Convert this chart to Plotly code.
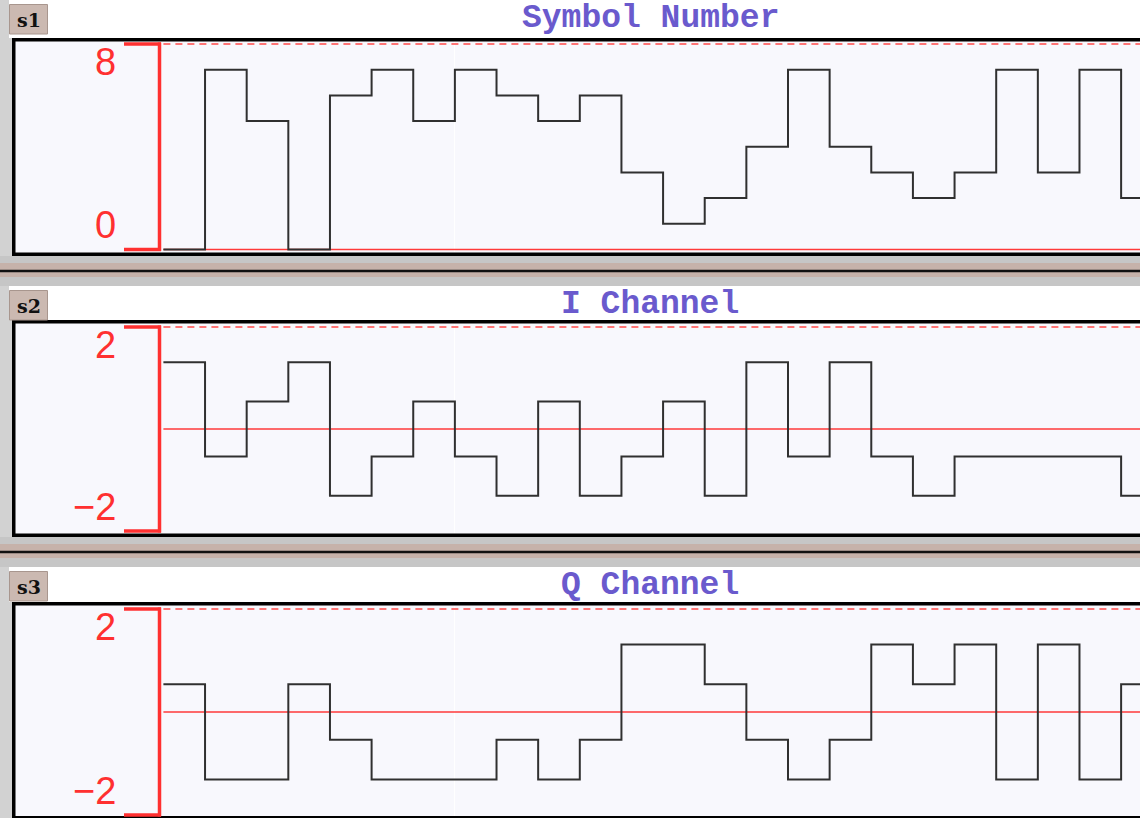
import plotly.graph_objects as go

# 8-PSK demo: symbol index per symbol period and the I / Q components
symbol_number = [0, 7, 5, 0, 6, 7, 5, 7, 6, 5, 6, 3, 1, 2, 4, 7, 4, 3, 2, 3, 7, 3, 7, 2]
i_channel = [1.31, -0.54, 0.54, 1.31, -1.31, -0.54, 0.54, -0.54, -1.31, 0.54, -1.31, -0.54,
             0.54, -1.31, 1.31, -0.54, 1.31, -0.54, -1.31, -0.54, -0.54, -0.54, -0.54, -1.31]
q_channel = [0.54, -1.31, -1.31, 0.54, -0.54, -1.31, -1.31, -1.31, -0.54, -1.31, -0.54, 1.31,
             1.31, 0.54, -0.54, -1.31, -0.54, 1.31, 0.54, 1.31, -1.31, 1.31, -1.31, 0.54]

titles = ['Symbol Number', 'I Channel', 'Q Channel']
tags = ['s1', 's2', 's3']
y_limits = [(0, 8), (-2, 2), (-2, 2)]
tick_labels = [('8', '0'), ('2', '\u22122'), ('2', '\u22122')]
series = [symbol_number, i_channel, q_channel]

W, H = 1140, 818
# pixel geometry of each strip (header top, frame top, frame bottom, top value px, bottom value px)
panels = [
    dict(head=0, top=38, bottom=256, vt=44, vb=249.5),
    dict(head=286, top=320, bottom=537, vt=327, vb=531),
    dict(head=567, top=602, bottom=819.5, vt=609, vb=815),
]
AXIS_X = 160
X0_PIX = 163.4
SYM_W = 41.64

RED = '#ff3030'
TRACE = '#303030'
TITLE_C = '#6a5acd'
BG = '#f8f8fd'


def px(x):
    return x / W


def py(y):
    return 1 - y / H


fig = go.Figure()
shapes = []
annotations = []
layout_axes = {}

x_range = [(AXIS_X - X0_PIX) / SYM_W, (W - X0_PIX) / SYM_W]

for k, p in enumerate(panels):
    n = '' if k == 0 else str(k + 1)
    vt, vb = y_limits[k][1], y_limits[k][0]
    d_top, d_bot = p['top'] + 4, p['bottom'] - 4
    unit = (p['vb'] - p['vt']) / (vt - vb)
    r0 = vb - (d_bot - p['vb']) / unit
    r1 = vt + (p['vt'] - d_top) / unit

    layout_axes['xaxis' + n] = dict(domain=[px(AXIS_X), 1], range=x_range, anchor='y' + n,
                                    showticklabels=False, zeroline=False, showline=False,
                                    tickvals=[7], showgrid=True, gridcolor='#ffffff', gridwidth=1)
    layout_axes['yaxis' + n] = dict(domain=[py(d_bot), py(d_top)], range=[r0, r1], anchor='x' + n,
                                    showticklabels=False, zeroline=False, showline=False, showgrid=False)

    vals = series[k]
    xs = list(range(len(vals) + 1))
    # reference lines
    fig.add_trace(go.Scatter(x=[0, len(vals)], y=[vt, vt], mode='lines',
                             line=dict(color='#ff4a4a', width=1.5, dash='7px,5px'),
                             xaxis='x' + n, yaxis='y' + n, hoverinfo='skip'))
    fig.add_trace(go.Scatter(x=[0, len(vals)], y=[0, 0], mode='lines',
                             line=dict(color='#ff3a3a', width=1.5),
                             xaxis='x' + n, yaxis='y' + n, hoverinfo='skip'))
    fig.add_trace(go.Scatter(x=xs, y=vals + [vals[-1]], mode='lines', line_shape='hv',
                             line=dict(color=TRACE, width=2),
                             xaxis='x' + n, yaxis='y' + n, name=titles[k]))

    # header strip
    shapes.append(dict(type='rect', xref='paper', yref='paper', layer='below',
                       x0=px(9), x1=px(W + 5), y0=py(p['top']), y1=py(p['head']),
                       fillcolor='#ffffff', line=dict(width=0)))
    # frame
    shapes.append(dict(type='rect', xref='paper', yref='paper', layer='below',
                       x0=px(13.75), x1=px(W + 10), y0=py(p['bottom'] - 1.75), y1=py(p['top'] + 1.75),
                       fillcolor=BG, line=dict(color='#000000', width=3.5)))
    # tag button
    shapes.append(dict(type='rect', xref='paper', yref='paper', layer='below',
                       x0=px(9.5), x1=px(47.5), y0=py(p['head'] + 34), y1=py(p['head'] + 4.5),
                       fillcolor='#cbb9b1', line=dict(color='#a8968e', width=1)))
    annotations.append(dict(text='<b>' + tags[k] + '</b>', xref='paper', yref='paper',
                            x=px(28.5), y=py(p['head'] + 20), showarrow=False,
                            xanchor='center', yanchor='middle',
                            font=dict(family='DejaVu Serif', size=19, color='#111111')))
    # title
    annotations.append(dict(text='<b>' + titles[k] + '</b>', xref='paper', yref='paper',
                            x=px((AXIS_X + W) / 2), y=py(p['head'] + 18.5), showarrow=False,
                            xanchor='center', yanchor='middle',
                            font=dict(family='Liberation Mono', size=33, color=TITLE_C)))
    # red bracket axis
    shapes.append(dict(type='line', xref='paper', yref='paper', layer='above',
                       x0=px(AXIS_X - 0.5), x1=px(AXIS_X - 0.5), y0=py(p['vt'] - 1.5), y1=py(p['vb'] + 1.5),
                       line=dict(color=RED, width=3.5)))
    for yy in (p['vt'], p['vb']):
        shapes.append(dict(type='line', xref='paper', yref='paper', layer='above',
                           x0=px(124), x1=px(AXIS_X + 1), y0=py(yy), y1=py(yy),
                           line=dict(color=RED, width=3.5)))
    annotations.append(dict(text=tick_labels[k][0], xref='paper', yref='paper', showarrow=False,
                            x=px(118), y=py(p['vt'] + 17.5), xanchor='right', yanchor='middle',
                            font=dict(family='Liberation Sans', size=38, color=RED)))
    annotations.append(dict(text=tick_labels[k][1], xref='paper', yref='paper', showarrow=False,
                            x=px(118), y=py(p['vb'] - 24.5), xanchor='right', yanchor='middle',
                            font=dict(family='Liberation Sans', size=38, color=RED)))

# separators between strips
for k in range(2):
    y_a = panels[k]['bottom']
    y_b = panels[k + 1]['head']
    mid = (y_a + y_b) / 2
    shapes.append(dict(type='rect', xref='paper', yref='paper', layer='below',
                       x0=0, x1=1, y0=py(y_b), y1=py(y_a), fillcolor='#c6c6c6', line=dict(width=0)))
    shapes.append(dict(type='rect', xref='paper', yref='paper', layer='below',
                       x0=0, x1=1, y0=py(mid + 6), y1=py(mid - 8), fillcolor='#c6b2aa', line=dict(width=0)))
    shapes.append(dict(type='line', xref='paper', yref='paper', layer='below',
                       x0=0, x1=1, y0=py(mid), y1=py(mid), line=dict(color='#111111', width=2.5)))

fig.update_layout(
    width=W, height=H,
    margin=dict(l=0, r=0, t=0, b=0),
    paper_bgcolor='#d2d2d2',
    plot_bgcolor='rgba(0,0,0,0)',
    showlegend=False,
    shapes=shapes,
    annotations=annotations,
    **layout_axes
)

# drop the default 8px page margin so the figure fills the window exactly
fig.write_html('out.html', config={'displayModeBar': False},
               post_script="document.body.style.margin='0';document.body.style.overflow='hidden';")
